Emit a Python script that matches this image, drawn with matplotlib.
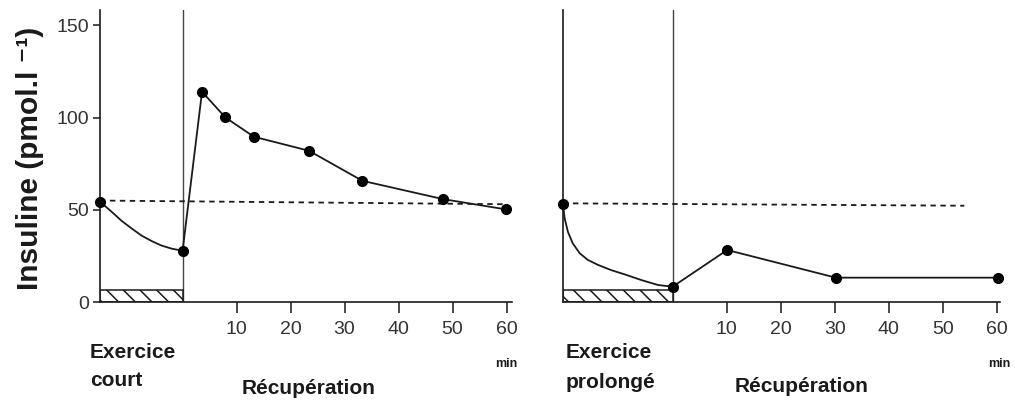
import matplotlib
matplotlib.use("Agg")
import matplotlib.pyplot as plt

plt.rcParams['font.family'] = ['Liberation Sans', 'DejaVu Sans']
plt.rcParams['hatch.linewidth'] = 1.1

#Exercice court : courbe pendant l'exercice puis points de recuperation (min, pmol/l)
court_ex_t = [-15.3, -13.1, -11.3, -9.4, -7.6, -5.7, -3.9, -2.0, 0]
court_ex_y = [54.4, 48.8, 44.0, 39.8, 36.0, 33.0, 30.6, 28.9, 27.8]
court_rec_t = [0, 3.6, 7.9, 13.2, 23.4, 33.3, 48.2, 59.9]
court_rec_y = [27.8, 114.0, 100.1, 89.6, 82.0, 65.7, 55.8, 50.2]
court_base_t = [-15.3, 60]
court_base_y = [55, 53]

#Exercice prolonge
prol_ex_t = [-20.3, -20.0, -19.4, -18.5, -17.2, -15.7, -13.8, -11.4, -8.9, -5.8, -2.7, 0]
prol_ex_y = [53.1, 45.4, 38.1, 31.8, 26.4, 22.8, 20.1, 17.3, 15.0, 11.9, 9.2, 8.3]
prol_rec_t = [0, 10.1, 30.2, 60.3]
prol_rec_y = [8.3, 28.2, 13.2, 13.2]
prol_base_t = [-20.3, 54]
prol_base_y = [53.5, 52.2]

#Barre hachuree (duree de l'exercice)
barre_court = (-15.3, 0)
barre_prol = (-20.3, 0)
barre_h = 6.5

ticks_x = [10, 20, 30, 40, 50, 60]
ticks_y = [0, 50, 100, 150]

noir = '#1a1a1a'
gris = '#333333'

fig = plt.figure(figsize=(10.15, 4.03), dpi=100)
axG = fig.add_axes([0.0985, 0.2506, 0.4059, 0.7246])
axD = fig.add_axes([0.5547, 0.2506, 0.4305, 0.7246])


def panneau(ax, ex_t, ex_y, rec_t, rec_y, base_t, base_y, barre, xlim):
    ax.set_xlim(*xlim)
    ax.set_ylim(0, 158.3)
    for s in ['top', 'right']:
        ax.spines[s].set_visible(False)
    for s in ['left', 'bottom']:
        ax.spines[s].set_linewidth(1.2)
        ax.spines[s].set_color(noir)
    ax.axvline(0, color='#444444', lw=1.0, zorder=1)
    ax.bar(barre[0], barre_h, width=barre[1] - barre[0], align='edge',
           facecolor='white', edgecolor=noir, hatch='\\\\', lw=1.1, zorder=2)
    ax.plot(base_t, base_y, color=noir, lw=1.3, ls=(0, (3, 2.5)), zorder=3)
    ax.plot(ex_t, ex_y, color=noir, lw=1.3, zorder=4, clip_on=False)
    ax.plot([ex_t[0]], [ex_y[0]], 'o', color='black', ms=7, zorder=5, clip_on=False)
    ax.plot(rec_t, rec_y, '-o', color=noir, mfc='black', mec='black', lw=1.3, ms=7,
            zorder=5, clip_on=False)
    ax.set_xticks(ticks_x)
    ax.set_xticklabels([str(t) for t in ticks_x])
    ax.tick_params(axis='x', direction='out', length=8, width=1.1, color=noir,
                   labelsize=14, labelcolor=gris, pad=6)


panneau(axG, court_ex_t, court_ex_y, court_rec_t, court_rec_y, court_base_t, court_base_y,
        barre_court, (-15.3, 61.0))
panneau(axD, prol_ex_t, prol_ex_y, prol_rec_t, prol_rec_y, prol_base_t, prol_base_y,
        barre_prol, (-20.3, 60.6))

axG.set_yticks(ticks_y)
axG.set_yticklabels([str(t) for t in ticks_y])
axG.tick_params(axis='y', direction='out', length=5, width=1.1, color=noir,
                labelsize=14, labelcolor=gris, pad=3)
axD.set_yticks([])

#Textes
fig.text(0.030, 0.607, 'Insuline (pmol.l ⁻¹)', rotation=90, ha='center', va='center',
         fontsize=21.5, fontweight='bold', color=noir)
fig.text(90 / 1015, 1 - 352 / 403, 'Exercice', fontsize=15, fontweight='bold', color=noir,
         va='center')
fig.text(90 / 1015, 1 - 381 / 403, 'court', fontsize=15, fontweight='bold', color=noir,
         va='center')
fig.text(309 / 1015, 1 - 388 / 403, 'Récupération', fontsize=15, fontweight='bold',
         color=noir, ha='center', va='center')
fig.text(506 / 1015, 1 - 364 / 403, 'min', fontsize=9, fontweight='bold', color=noir,
         ha='center', va='center')
fig.text(566 / 1015, 1 - 353 / 403, 'Exercice', fontsize=15, fontweight='bold', color=noir,
         va='center')
fig.text(566 / 1015, 1 - 382 / 403, 'prolongé', fontsize=15, fontweight='bold', color=noir,
         va='center')
fig.text(802 / 1015, 1 - 387 / 403, 'Récupération', fontsize=15, fontweight='bold',
         color=noir, ha='center', va='center')
fig.text(999 / 1015, 1 - 364 / 403, 'min', fontsize=9, fontweight='bold', color=noir,
         ha='center', va='center')

fig.savefig('out.png', dpi=100, facecolor='white')
